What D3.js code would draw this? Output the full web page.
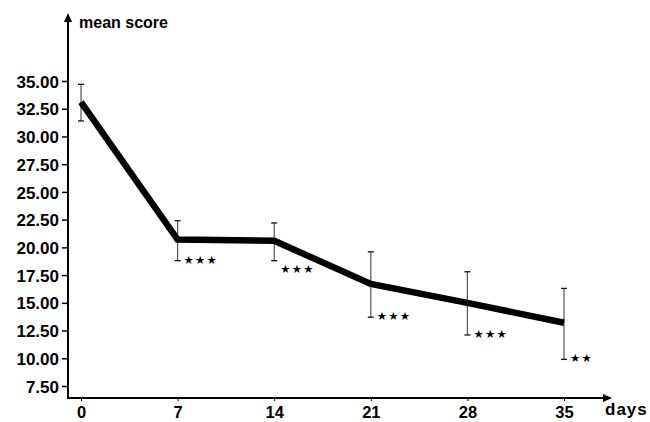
<!DOCTYPE html>
<html>
<head>
<meta charset="utf-8">
<script src="https://cdn.jsdelivr.net/npm/d3@7"></script>
<style>
  html, body { margin: 0; padding: 0; background: #fff; overflow: hidden; }
  svg { display: block; }
</style>
</head>
<body>
<svg id="chart" width="650" height="422"></svg>
<script>
// ---- data ----
const days = [0, 7, 14, 21, 28, 35];
const meanScore = [33.1, 20.7, 20.6, 16.7, 15.0, 13.2];
const errUpper = [34.7, 22.4, 22.2, 19.6, 17.8, 16.3];
const errLower = [31.4, 18.8, 18.8, 13.7, 12.1, 9.9];
const significance = ["", "***", "***", "***", "***", "**"];
const yTicks = [7.5, 10, 12.5, 15, 17.5, 20, 22.5, 25, 27.5, 30, 32.5, 35];
const xTicks = [0, 7, 14, 21, 28, 35];
const yLabel = "mean score";
const xLabel = "days";

// ---- layout ----
const svg = d3.select("#chart");
const axisX = 68, axisY = 398, axisTop = 13, axisRight = 612;
const x = d3.scaleLinear().domain([0, 35]).range([81, 564]);
const y = d3.scaleLinear().domain([7.5, 35]).range([386, 81]);
const font = "'Liberation Sans', Arial, Helvetica, sans-serif";
const lineW = 6.5;

// axes lines
svg.append("line").attr("x1", axisX).attr("x2", axisX).attr("y1", axisTop + 4).attr("y2", axisY)
  .attr("stroke", "#000").attr("stroke-width", 2);
svg.append("line").attr("x1", axisX - 1).attr("x2", axisRight - 4).attr("y1", axisY).attr("y2", axisY)
  .attr("stroke", "#000").attr("stroke-width", 2);
// arrowheads
svg.append("path").attr("d", `M${axisX},${axisTop} L${axisX - 4},${axisTop + 9} L${axisX + 4},${axisTop + 9} Z`).attr("fill", "#000");
svg.append("path").attr("d", `M${axisRight},${axisY} L${axisRight - 9},${axisY - 4} L${axisRight - 9},${axisY + 4} Z`).attr("fill", "#000");

// y ticks
const yAxis = d3.axisLeft(y).tickValues(yTicks).tickSize(6).tickPadding(4)
  .tickFormat(d3.format(".2f"));
const gy = svg.append("g").attr("transform", `translate(${axisX},0)`).call(yAxis);
gy.select(".domain").remove();
gy.selectAll(".tick line").attr("stroke", "#000").attr("stroke-width", 1.5);
gy.selectAll(".tick text").attr("font-family", font).attr("font-weight", "bold")
  .attr("font-size", 17).attr("fill", "#000").attr("x", -9).attr("dy", "0.36em");

// x ticks
const xAxis = d3.axisBottom(x).tickValues(xTicks).tickSize(3).tickPadding(0).tickFormat(d3.format("d"));
const gx = svg.append("g").attr("transform", `translate(0,${axisY})`).call(xAxis);
gx.select(".domain").remove();
gx.selectAll(".tick line").attr("stroke", "#000").attr("stroke-width", 1);
gx.selectAll(".tick text").attr("font-family", font).attr("font-weight", "bold")
  .attr("font-size", 16.5).attr("fill", "#000").attr("y", 19.5).attr("dy", 0);

// axis labels
svg.append("text").attr("x", 79).attr("y", 28).text(yLabel)
  .attr("font-family", font).attr("font-weight", "bold").attr("font-size", 16).attr("fill", "#000");
svg.append("text").attr("x", 605).attr("y", 415).text(xLabel)
  .attr("font-family", font).attr("font-weight", "bold").attr("font-size", 17)
  .attr("letter-spacing", 1).attr("fill", "#000");

const pts = days.map((d, i) => ({ day: d, m: meanScore[i], hi: errUpper[i], lo: errLower[i], sig: significance[i] }));

// error bars
const eb = svg.append("g");
pts.forEach(p => {
  const cx = x(p.day);
  eb.append("line").attr("x1", cx).attr("x2", cx).attr("y1", y(p.hi)).attr("y2", y(p.lo))
    .attr("stroke", "#555").attr("stroke-width", 1.2);
  [p.hi, p.lo].forEach(v => {
    eb.append("line").attr("x1", cx - 3).attr("x2", cx + 3).attr("y1", y(v)).attr("y2", y(v))
      .attr("stroke", "#111").attr("stroke-width", 1.3);
  });
});

// main line
const line = d3.line().x(d => x(d.day)).y(d => y(d.m));
svg.append("path").datum(pts).attr("d", line).attr("fill", "none")
  .attr("stroke", "#000").attr("stroke-width", lineW).attr("stroke-linejoin", "miter");

// significance stars: just beside the lower cap, pushed below the line if they would touch it
function lineYAt(px) {
  for (let i = 0; i < pts.length - 1; i++) {
    const x0 = x(pts[i].day), x1 = x(pts[i + 1].day);
    if (px >= x0 && px <= x1) {
      const t = (px - x0) / (x1 - x0);
      return y(pts[i].m) + t * (y(pts[i + 1].m) - y(pts[i].m));
    }
  }
  return -Infinity;
}
svg.append("g").selectAll("text").data(pts.filter(p => p.sig)).join("text")
  .attr("x", p => x(p.day) + 6)
  .attr("y", p => {
    const right = x(p.day) + 6 + p.sig.length * 10.5;
    const clear = lineYAt(right) + lineW / 2 + 8;
    return Math.max(y(p.lo) - 1, clear);
  })
  .attr("dominant-baseline", "central")
  .attr("font-family", "'DejaVu Sans', sans-serif").attr("font-size", 11.5)
  .attr("letter-spacing", 1.2).attr("fill", "#000")
  .text(p => p.sig.replace(/\*/g, "★"));
</script>
</body>
</html>
